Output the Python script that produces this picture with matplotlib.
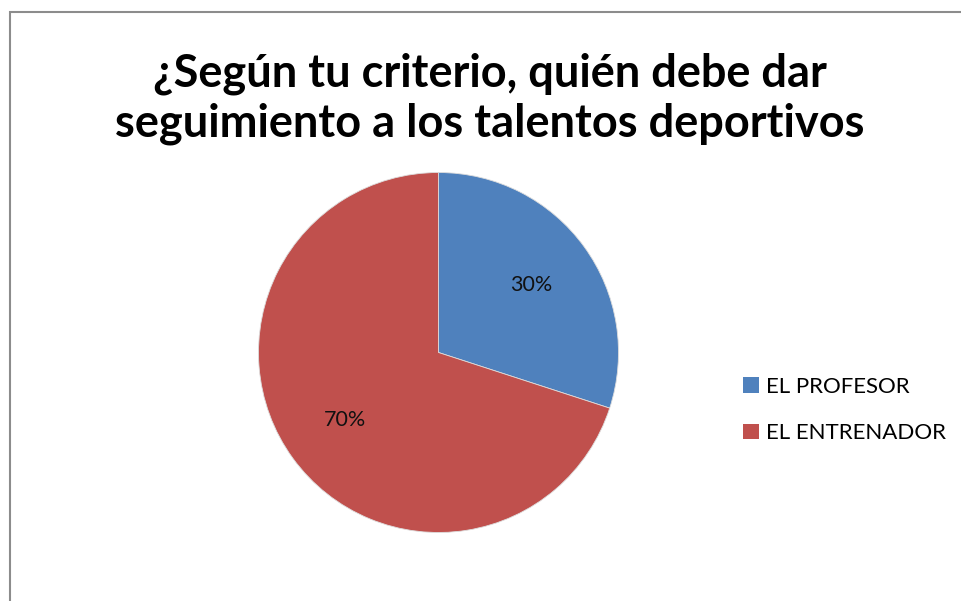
import matplotlib
matplotlib.use("Agg")
import matplotlib.pyplot as plt
from matplotlib.patches import Rectangle, Patch

categories = ["EL PROFESOR", "EL ENTRENADOR"]
values = [30, 70]
colors = ["#4F81BD", "#C0504D"]
title = "¿Según tu criterio, quién debe dar\nseguimiento a los talentos deportivos"

W, H = 962, 601
fig = plt.figure(figsize=(W / 100, H / 100), dpi=100)
plt.rcParams['font.family'] = ['Lato', 'DejaVu Sans']

# chart border
fig.add_artist(Rectangle((9.5 / W, -0.1), 1.2, 1.1 - 11.5 / H, transform=fig.transFigure,
                         fill=False, edgecolor="#8c8c8c", linewidth=1.5))

cx, cy, r = 438.5, 352.5, 180
ax = fig.add_axes([(cx - r) / W, (H - cy - r) / H, 2 * r / W, 2 * r / H])
wedges, texts, autotexts = ax.pie(values, colors=colors, startangle=90, counterclock=False,
                                  autopct=lambda p: f"{p:.0f}%", pctdistance=0.64,
                                  wedgeprops=dict(edgecolor="#dddddd", linewidth=0.6),
                                  textprops=dict(fontsize=15.5, color="#111111"))
ax.set_xlim(-1, 1)
ax.set_ylim(-1, 1)

fig.text(490 / W, 1 - 99 / H, title, ha="center", va="center", fontsize=32.5,
         fontweight="bold", linespacing=1.22, color="black")

handles = [Patch(facecolor=c, edgecolor="none") for c in colors]
fig.legend(handles, categories, loc="center left", bbox_to_anchor=(723 / W, 1 - 410 / H),
           frameon=False, fontsize=16, handlelength=0.72, handleheight=0.72,
           handletextpad=0.32, labelspacing=1.2)

fig.savefig("out.png", dpi=100)
